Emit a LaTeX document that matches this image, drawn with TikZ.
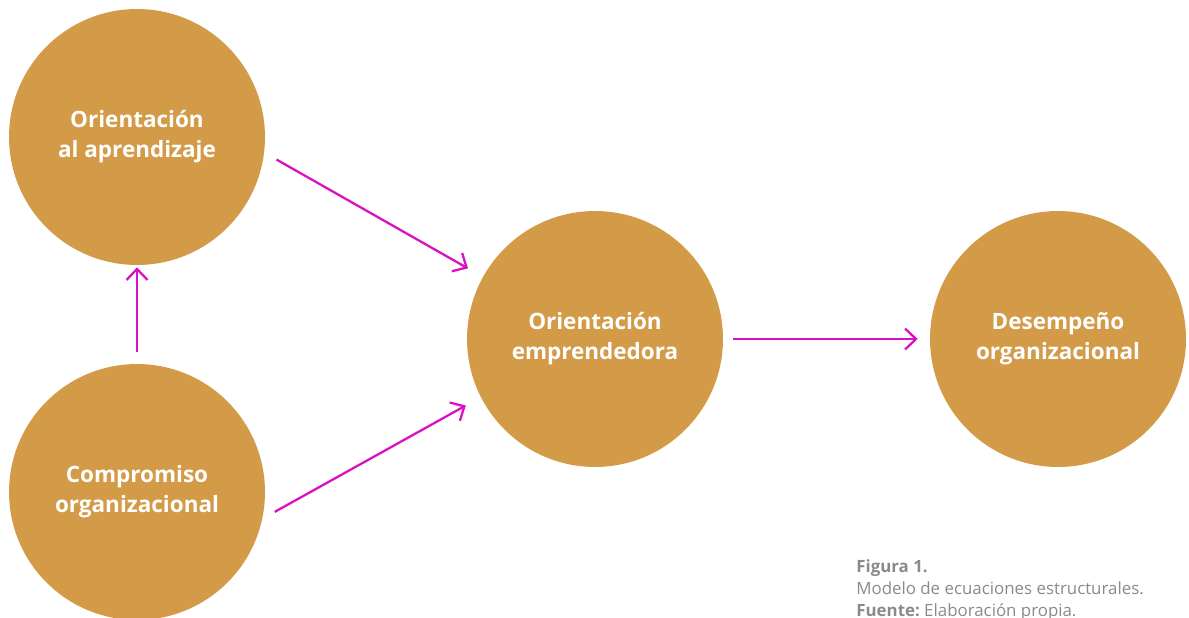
\documentclass[tikz,border=0pt]{standalone}
\usepackage{fontspec}
\setmainfont{Open Sans}
\usetikzlibrary{arrows.meta}
\definecolor{ocre}{HTML}{D39A47}
\definecolor{flecha}{HTML}{DB10C0}
\definecolor{gristxt}{HTML}{8A8A8A}

\begin{document}
\begin{tikzpicture}[x=0.02cm,y=-0.02cm,
    factor/.style={circle,fill=ocre,minimum size=5.12cm,inner sep=0pt,
        text=white,font=\fontsize{12.8}{17}\selectfont\bfseries,align=center},
    flechita/.style={draw=flecha,line width=1.3pt,-{Straight Barb[length=2.2mm,width=4.2mm,line width=1.3pt]}}]

\useasboundingbox (0,0) rectangle (1189,618);

\node [factor] (apr) at (137,137) {Orientación\\al aprendizaje};
\node [factor] (com) at (137,492) {Compromiso\\organizacional};
\node [factor] (emp) at (595,339) {Orientación\\emprendedora};
\node [factor] (des) at (1058,339) {Desempeño\\organizacional};

\draw [flechita,shorten <=0.28cm,shorten >=0.34cm] (apr.-7) -- (emp.151);
\draw [flechita,shorten <=0.28cm,shorten >=0.34cm] (com.-12) -- (emp.207);
\draw [flechita,shorten <=0.24cm,shorten >=0.04cm] (com.north) -- (apr.south);
\draw [flechita,shorten <=0.2cm,shorten >=0.24cm] (emp.east) -- (des.west);

% pie de figura
\node [anchor=north west,inner sep=0pt,text=gristxt,align=left,
       font=\fontsize{9.6}{12.6}\selectfont] (pie) at (856,559)
      {\textbf{Figura 1.}\\Modelo de ecuaciones estructurales.\\\textbf{Fuente:}~Elaboración propia.};

\end{tikzpicture}
\end{document}
